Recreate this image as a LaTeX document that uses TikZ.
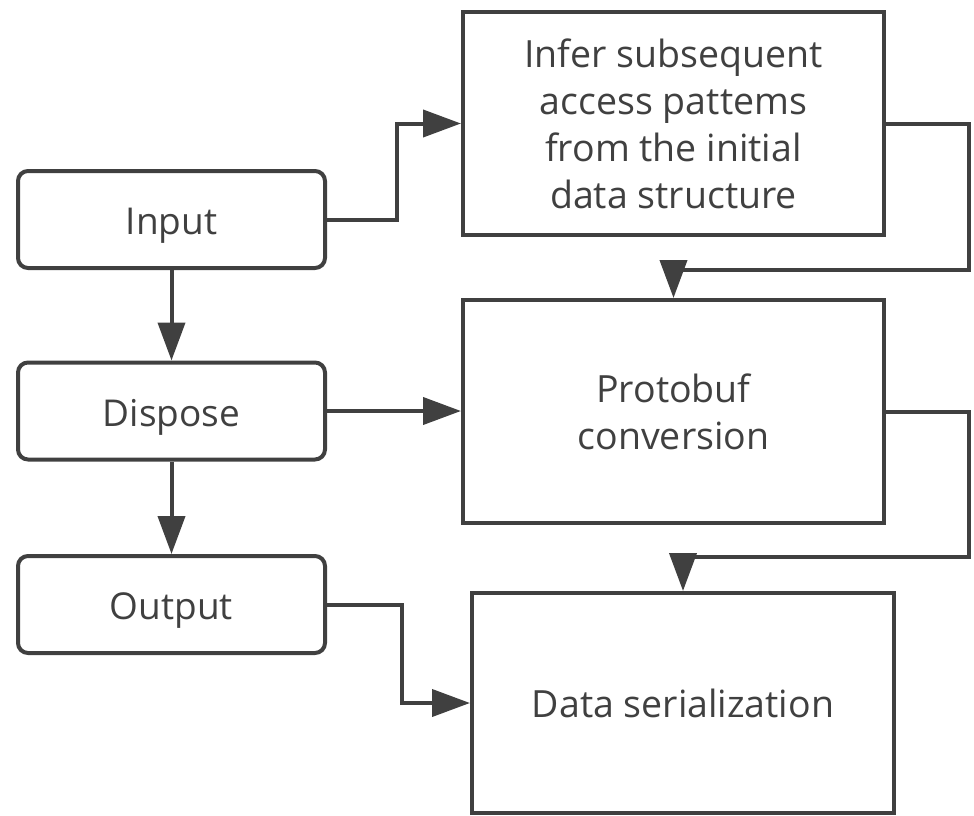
\documentclass[tikz,border=0pt]{standalone}
\usepackage{fontspec}
\setmainfont{Open Sans}
\usetikzlibrary{arrows.meta}
\definecolor{ink}{HTML}{404040}
\tikzset{
  stepround/.style={draw=ink, line width=4pt, rounded corners=10pt, inner sep=0pt,
    minimum width=307pt, minimum height=97pt, text=ink,
    text height=30pt, text depth=0pt,
    font=\fontsize{37}{47}\selectfont},
  stepbig/.style={draw=ink, line width=4pt, inner sep=0pt,
    minimum width=421pt, minimum height=223pt, text=ink, align=center,
    font=\fontsize{37.5}{47}\selectfont},
  arr/.style={draw=ink, line width=4pt,
    -{Triangle[length=38pt,width=27pt]}}
}
\begin{document}
\begin{tikzpicture}[x=1pt,y=-1pt]
  \useasboundingbox (0,0) rectangle (974,816);
  % left column: rounded process steps
  \node[stepround] (in)  at (171.5,219.5) {Input};
  \node[stepround] (dis) at (171.5,411)   {Dispose};
  \node[stepround] (out) at (171.5,604.5) {Output};
  % right column: detailed stages
  \node[stepbig] (inf) at (673.5,123.5) {Infer subsequent\\access pattems\\from the initial\\data structure};
  \node[stepbig] (pro) at (673.5,411.5) {Protobuf\\conversion};
  \node[stepbig, minimum width=422pt, minimum height=220pt] (ds) at (683,703) {Data serialization};
  % bends of the return connectors
  \coordinate (c1) at (969,270);
  \coordinate (c2) at (969,557);
  % connectors
  \draw[arr] (in) -- (dis);
  \draw[arr] (dis) -- (out);
  \draw[arr] (in.east) -- ++(70,0) |- (inf.west);
  \draw[arr] (dis.east) -- (dis.east -| pro.west);
  \draw[arr] (out.east) -- ++(75,0) |- (ds.west);
  \draw[arr] (inf.east) -| (c1) -| (pro.north);
  \draw[arr] (pro.east) -| (c2) -| (ds.north);
\end{tikzpicture}
\end{document}
